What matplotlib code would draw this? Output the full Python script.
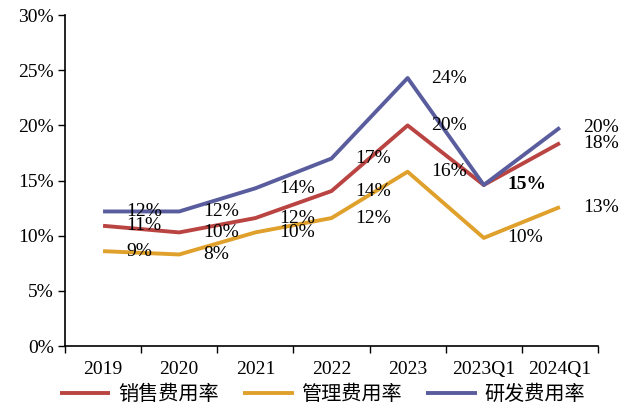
import numpy as np
import matplotlib
matplotlib.use("Agg")
import matplotlib.pyplot as plt
from matplotlib.ticker import FuncFormatter, FixedLocator

plt.rcParams['font.family'] = ['Liberation Serif', 'Noto Sans CJK SC', 'DejaVu Sans']

categories = ["2019", "2020", "2021", "2022", "2023", "2023Q1", "2024Q1"]
sales_rate = [10.9, 10.3, 11.6, 14.05, 20.0, 14.6, 18.4]   # 销售费用率
admin_rate = [8.6, 8.3, 10.3, 11.6, 15.8, 9.8, 12.6]       # 管理费用率
rd_rate = [12.2, 12.2, 14.3, 17.0, 24.3, 14.6, 19.8]       # 研发费用率
series_names = ["销售费用率", "管理费用率", "研发费用率"]
colors = ["#B94442", "#E0A12C", "#595D9D"]

fig = plt.figure(figsize=(6.29, 4.09), dpi=100)
ax = fig.add_axes([0.1033, 0.154, 0.8474, 0.809])

x = np.arange(len(categories))
for vals, name, c in zip([sales_rate, admin_rate, rd_rate], series_names, colors):
    ax.plot(x, vals, color=c, lw=2.8, label=name, solid_capstyle='butt')

# 数据标签（2023Q1 销售与研发重合，只标一个加粗）
for vals, skip in [(sales_rate, 5), (admin_rate, None), (rd_rate, None)]:
    for i, v in enumerate(vals):
        if i == skip:
            continue
        bold = (vals is rd_rate and i == 5)
        ax.annotate(f"{v:.0f}%", (x[i], v), xytext=(17, 0), textcoords='offset points',
                    ha='left', va='center', fontsize=14,
                    fontweight='bold' if bold else 'normal', color='black')

ax.set_xlim(-0.5, len(categories) - 0.5)
ax.set_ylim(0, 30)
ax.set_yticks(np.arange(0, 31, 5))
ax.yaxis.set_major_formatter(FuncFormatter(lambda v, p: f"{v:.0f}%"))

ax.xaxis.set_major_locator(FixedLocator(np.arange(-0.5, len(categories), 1)))
ax.xaxis.set_major_formatter(FuncFormatter(lambda v, p: ""))
ax.set_xticks(x, minor=True)
ax.set_xticklabels(categories, minor=True)
ax.tick_params(axis='x', which='minor', length=0, pad=11, labelsize=14)
ax.tick_params(axis='x', which='major', length=5, width=1, direction='out')
ax.tick_params(axis='y', length=5, width=1, direction='out', labelsize=14, pad=3)

for s in ['top', 'right']:
    ax.spines[s].set_visible(False)
for s in ['left', 'bottom']:
    ax.spines[s].set_linewidth(1.2)

fig.legend(loc='center', bbox_to_anchor=(0.513, 0.034), ncol=3, frameon=False,
           fontsize=14.5, handlelength=2.5, handletextpad=0.4, columnspacing=1.2)

fig.savefig("out.png", dpi=100)
